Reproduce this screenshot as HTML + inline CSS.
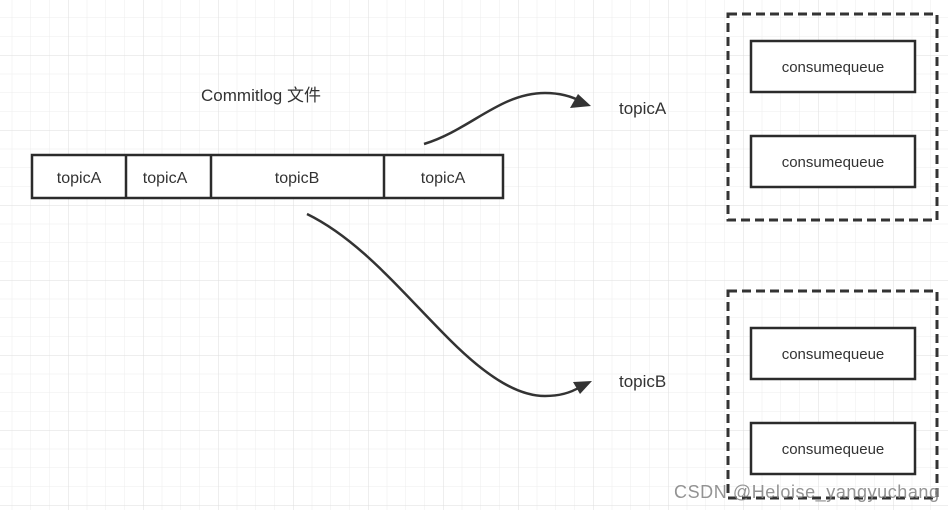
<!DOCTYPE html>
<html><head><meta charset="utf-8"><style>
html,body{margin:0;padding:0;background:#fff;}
svg{display:block;}
text{font-family:"Liberation Sans","Noto Sans CJK SC",sans-serif;fill:#333;}
</style></head><body>
<svg width="948" height="510" viewBox="0 0 948 510" xmlns="http://www.w3.org/2000/svg">
<defs>
<pattern id="minor" x="-7" y="-1.25" width="18.75" height="18.75" patternUnits="userSpaceOnUse">
<path d="M0 0 H18.75 M0 0 V18.75" stroke="#ececec" stroke-width="1" fill="none"/>
</pattern>
<pattern id="major" x="-7" y="-20" width="75" height="75" patternUnits="userSpaceOnUse">
<path d="M0 0 H75 M0 0 V75" stroke="#dedede" stroke-width="1" fill="none"/>
</pattern>
</defs>
<rect width="948" height="510" fill="#fff"/>
<rect width="948" height="510" fill="url(#minor)"/>
<rect width="948" height="510" fill="url(#major)"/>

<text x="261" y="101" font-size="17" text-anchor="middle">Commitlog 文件</text>

<g stroke="#2b2b2b" stroke-width="2.5" fill="#fff">
<rect x="32" y="155" width="471" height="43"/>
<line x1="126" y1="155" x2="126" y2="198"/>
<line x1="211" y1="155" x2="211" y2="198"/>
<line x1="384" y1="155" x2="384" y2="198"/>
</g>
<g font-size="16" text-anchor="middle">
<text x="79" y="183">topicA</text>
<text x="165" y="183">topicA</text>
<text x="297" y="183">topicB</text>
<text x="443" y="183">topicA</text>
</g>

<g fill="none" stroke="#333" stroke-width="2.5">
<path d="M424 144 C470 130 500 93 545 93 C563 93 575 98 582 102"/>
<path d="M307 214 C360 240 400 290 450 340 C490 380 520 396 545 396 C560 396 572 392 580 387"/>
</g>
<polygon points="591,106 570,108 578,94" fill="#333"/>
<polygon points="592,381 580,394 573,382" fill="#333"/>

<text x="619" y="114" font-size="17">topicA</text>
<text x="619" y="387" font-size="17">topicB</text>

<g fill="none" stroke="#333" stroke-width="3" stroke-dasharray="9 5">
<rect x="728" y="14" width="209" height="206"/>
<rect x="728" y="291" width="209" height="207"/>
</g>
<g fill="#fff" stroke="#2b2b2b" stroke-width="2.5">
<rect x="751" y="41" width="164" height="51"/>
<rect x="751" y="136" width="164" height="51"/>
<rect x="751" y="328" width="164" height="51"/>
<rect x="751" y="423" width="164" height="51"/>
</g>
<g font-size="15" text-anchor="middle">
<text x="833" y="72">consumequeue</text>
<text x="833" y="167">consumequeue</text>
<text x="833" y="359">consumequeue</text>
<text x="833" y="454">consumequeue</text>
</g>
<text x="674" y="498" font-size="18" textLength="265" style="fill:#888;opacity:0.9">CSDN @Heloise_yangyuchang</text>
</svg>
</body></html>
